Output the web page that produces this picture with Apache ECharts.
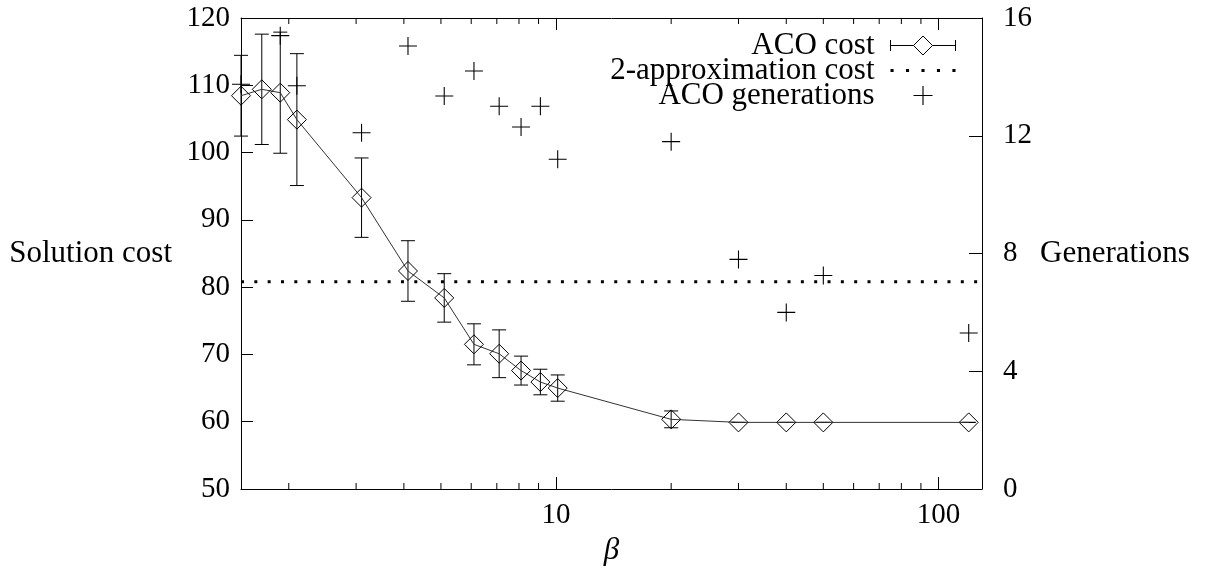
<!DOCTYPE html>
<html>
<head>
<meta charset="utf-8">
<script src="https://cdn.jsdelivr.net/npm/echarts@6/dist/echarts.min.js"></script>
<style>
html, body { margin: 0; padding: 0; background: #fff; }
#chart { width: 1207px; height: 574px; }
</style>
</head>
<body>
<div id="chart"></div>
<script>
// beta values (log x axis)
const beta = [1.5, 1.7, 1.9, 2.1, 3.1, 4.1, 5.1, 6.1, 7.1, 8.1, 9.1, 10.1, 20, 30, 40, 50, 120]
// ACO solution cost, mean and error half-width
const acoCost = [108.45, 109.4, 108.9, 104.9, 93.3, 82.4, 78.4, 71.5, 70.1, 67.6, 65.9, 65.0, 60.35, 59.9, 59.9, 59.9, 59.9]
const acoErr = [6.0, 8.2, 9.0, 9.8, 5.9, 4.5, 3.6, 3.05, 3.55, 2.15, 1.9, 1.95, 1.25, 0, 0, 0, 0]
// ACO generations (right axis), none drawn at 1.7
const acoGen = [13.75, null, 15.4, 13.7, 12.1, 15.05, 13.35, 14.2, 13.0, 12.3, 13.0, 11.2, 11.8, 7.8, 6.0, 7.25, 5.3]
// 2-approximation cost
const approxCost = 80.8

const xRange = [1.5, 130]
const xTickLabels = [10, 100]
const minorTicks = [2, 3, 4, 5, 6, 7, 8, 9, 20, 30, 40, 50, 60, 70, 80, 90]
const costRange = [50, 120]
const genRange = [0, 16]

const FONT = "'Liberation Serif', 'DejaVu Serif', serif"
const txt = { fontFamily: FONT, fontSize: 29, color: '#000' }
const bigTxt = { fontFamily: FONT, fontSize: 31, color: '#000' }
const axisLine = { show: true, lineStyle: { color: '#000', width: 1 } }

const plusPath = 'path://M9.4,0h1.2v20h-1.2z M0,9.4h20v1.2h-20z'

const myChart = echarts.init(document.getElementById('chart'))

const option = {
  animation: false,
  backgroundColor: '#fff',
  grid: { left: 241, right: 225, top: 18, bottom: 85, containLabel: false },
  legend: {
    orient: 'vertical',
    align: 'right',
    right: 249,
    top: 30,
    padding: 0,
    itemWidth: 65,
    itemHeight: 19,
    itemGap: -6,
    selectedMode: false,
    textStyle: Object.assign({}, bigTxt, { lineHeight: 25, padding: [0, 11, 0, 0] }),
    data: [
      {
        name: 'ACO cost',
        icon: 'path://M0,4 L0,15 M0,9.5 L23,9.5 M42,9.5 L65,9.5 M65,4 L65,15 M23,9.5 L32.5,0 L42,9.5 L32.5,19 Z',
        itemStyle: { color: 'none', borderColor: '#000', borderWidth: 1 }
      },
      {
        name: '2-approximation cost',
        icon: 'path://M0,0h3v3h-3z M15,0h3v3h-3z M30,0h3v3h-3z M45,0h3v3h-3z M60,0h3v3h-3z',
        itemStyle: { color: '#000', borderWidth: 0 }
      },
      {
        name: 'ACO generations',
        icon: plusPath,
        itemStyle: { color: '#000', borderWidth: 0 }
      }
    ]
  },
  xAxis: [
    {
      type: 'log',
      logBase: 10,
      min: xRange[0],
      max: xRange[1],
      position: 'bottom',
      name: 'β',
      nameLocation: 'middle',
      nameGap: 61,
      nameTextStyle: Object.assign({}, bigTxt, { fontStyle: 'italic', verticalAlign: 'middle' }),
      axisLine: axisLine,
      axisTick: { show: true, inside: true, length: 12, lineStyle: { color: '#000' } },
      axisLabel: Object.assign({}, txt, {
        margin: 12,
        formatter: (v) => {
          const hit = xTickLabels.find((t) => Math.abs(t - v) < 1e-6 * t)
          return hit ? String(hit) : ''
        }
      }),
      splitLine: { show: false },
      minorTick: { show: false }
    },
    {
      type: 'log',
      logBase: 10,
      min: xRange[0],
      max: xRange[1],
      position: 'top',
      axisLine: axisLine,
      axisTick: { show: true, inside: true, length: 12, lineStyle: { color: '#000' } },
      axisLabel: { show: false },
      splitLine: { show: false }
    }
  ],
  yAxis: [
    {
      type: 'value',
      min: costRange[0],
      max: costRange[1],
      interval: 10,
      position: 'left',
      name: 'Solution cost',
      nameLocation: 'middle',
      nameRotate: 0,
      nameGap: 69,
      nameTextStyle: Object.assign({}, bigTxt, { align: 'right', verticalAlign: 'middle' }),
      axisLine: axisLine,
      axisTick: { show: true, inside: true, length: 12, lineStyle: { color: '#000' } },
      axisLabel: Object.assign({}, txt, { margin: 11 }),
      splitLine: { show: false }
    },
    {
      type: 'value',
      min: genRange[0],
      max: genRange[1],
      interval: 4,
      position: 'right',
      name: 'Generations',
      nameLocation: 'middle',
      nameRotate: 0,
      nameGap: 58,
      nameTextStyle: Object.assign({}, bigTxt, { align: 'left', verticalAlign: 'middle' }),
      axisLine: axisLine,
      axisTick: { show: true, inside: true, length: 13, lineStyle: { color: '#000' } },
      axisLabel: Object.assign({}, txt, { margin: 21 }),
      splitLine: { show: false }
    }
  ],
  series: [
    {
      name: 'ACO cost',
      type: 'line',
      xAxisIndex: 0,
      yAxisIndex: 0,
      clip: false,
      data: beta.map((b, i) => [b, acoCost[i]]),
      symbol: 'diamond',
      symbolSize: 19,
      showSymbol: true,
      lineStyle: { color: '#333', width: 1 },
      itemStyle: { color: 'none', borderColor: '#000', borderWidth: 1 },
      z: 3
    },
    {
      name: 'ACO cost error',
      type: 'custom',
      xAxisIndex: 0,
      yAxisIndex: 0,
      data: beta.map((b, i) => [b, acoCost[i] - acoErr[i], acoCost[i] + acoErr[i]]),
      encode: { x: 0, y: [1, 2] },
      renderItem: (params, api) => {
        const x = api.value(0)
        const lo = api.coord([x, api.value(1)])
        const hi = api.coord([x, api.value(2)])
        const w = 7
        const st = { stroke: '#000', lineWidth: 1 }
        return {
          type: 'group',
          children: [
            { type: 'line', shape: { x1: lo[0], y1: lo[1], x2: hi[0], y2: hi[1] }, style: st },
            { type: 'line', shape: { x1: lo[0] - w, y1: lo[1], x2: lo[0] + w, y2: lo[1] }, style: st },
            { type: 'line', shape: { x1: hi[0] - w, y1: hi[1], x2: hi[0] + w, y2: hi[1] }, style: st }
          ]
        }
      },
      z: 3
    },
    {
      name: '2-approximation cost',
      type: 'line',
      xAxisIndex: 0,
      yAxisIndex: 0,
      data: [[xRange[0], approxCost], [xRange[1], approxCost]],
      showSymbol: false,
      symbol: 'none',
      lineStyle: { color: '#000', width: 3, type: [3, 10.33], cap: 'butt' },
      itemStyle: { color: '#000' },
      z: 2
    },
    {
      name: 'ACO generations',
      type: 'scatter',
      xAxisIndex: 0,
      yAxisIndex: 1,
      data: beta.map((b, i) => [b, acoGen[i]]).filter((d) => d[1] !== null),
      symbol: plusPath,
      symbolSize: 18,
      itemStyle: { color: '#000', opacity: 1 },
      z: 4
    },
    {
      // minor log ticks on bottom and top axes
      name: 'minor ticks',
      type: 'custom',
      xAxisIndex: 0,
      yAxisIndex: 0,
      silent: true,
      data: minorTicks.map((t) => [t, costRange[0]]),
      encode: { x: 0, y: 1 },
      renderItem: (params, api) => {
        const t = api.value(0)
        const b = api.coord([t, costRange[0]])
        const tp = api.coord([t, costRange[1]])
        const st = { stroke: '#000', lineWidth: 1 }
        return {
          type: 'group',
          children: [
            { type: 'line', shape: { x1: b[0], y1: b[1], x2: b[0], y2: b[1] - 6 }, style: st },
            { type: 'line', shape: { x1: tp[0], y1: tp[1], x2: tp[0], y2: tp[1] + 6 }, style: st }
          ]
        }
      },
      z: 1
    }
  ]
}
myChart.setOption(option)
</script>
</body>
</html>
